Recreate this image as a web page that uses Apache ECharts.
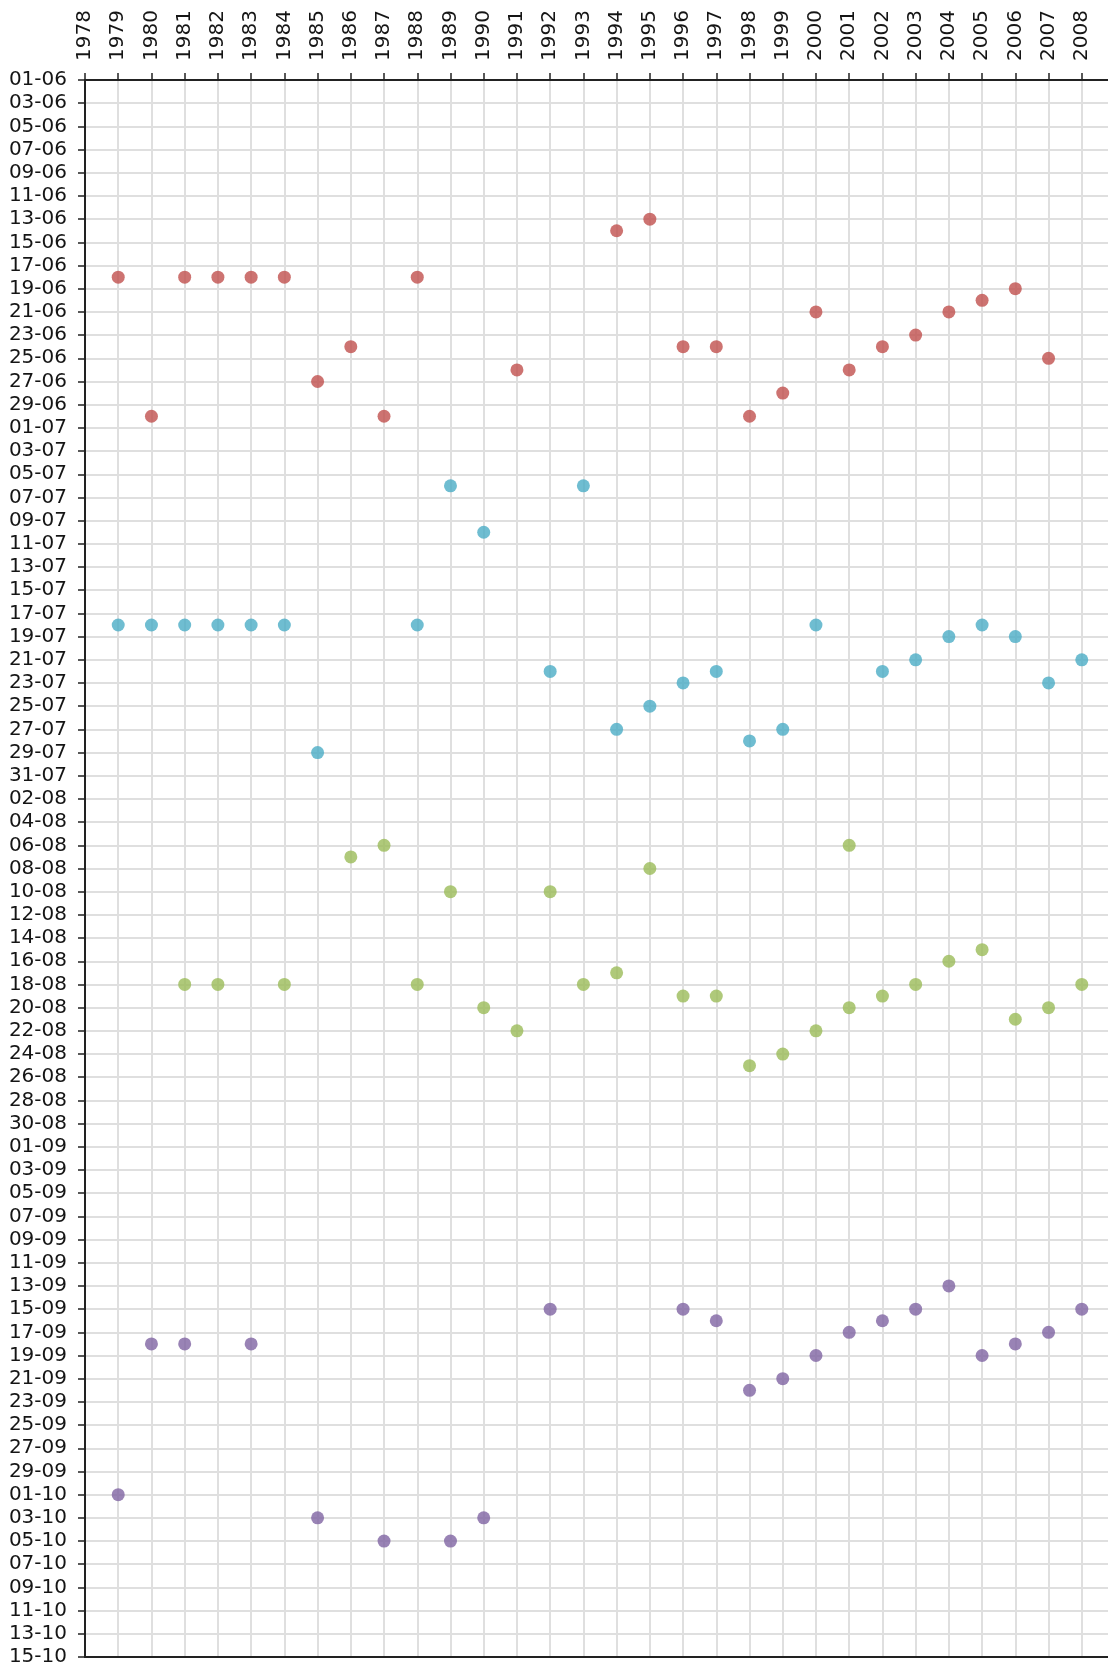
<!DOCTYPE html>
<html>
<head>
<meta charset="utf-8">
<style>
  html, body { margin: 0; padding: 0; background: #ffffff; overflow: hidden; }
  #chart { width: 1115px; height: 1668px; }
</style>
<script src="https://cdn.jsdelivr.net/npm/echarts@6/dist/echarts.min.js"></script>
</head>
<body>
<div id="chart"></div>
<script>
// Observed dates per year (day-month), one list per colour group.
const groupJune = [
  [1979, '18-06'], [1980, '30-06'], [1981, '18-06'], [1982, '18-06'], [1983, '18-06'],
  [1984, '18-06'], [1985, '27-06'], [1986, '24-06'], [1987, '30-06'], [1988, '18-06'],
  [1991, '26-06'], [1994, '14-06'], [1995, '13-06'], [1996, '24-06'], [1997, '24-06'],
  [1998, '30-06'], [1999, '28-06'], [2000, '21-06'], [2001, '26-06'], [2002, '24-06'],
  [2003, '23-06'], [2004, '21-06'], [2005, '20-06'], [2006, '19-06'], [2007, '25-06']
];
const groupJuly = [
  [1979, '18-07'], [1980, '18-07'], [1981, '18-07'], [1982, '18-07'], [1983, '18-07'],
  [1984, '18-07'], [1985, '29-07'], [1988, '18-07'], [1989, '06-07'], [1990, '10-07'],
  [1992, '22-07'], [1993, '06-07'], [1994, '27-07'], [1995, '25-07'], [1996, '23-07'],
  [1997, '22-07'], [1998, '28-07'], [1999, '27-07'], [2000, '18-07'], [2002, '22-07'],
  [2003, '21-07'], [2004, '19-07'], [2005, '18-07'], [2006, '19-07'], [2007, '23-07'],
  [2008, '21-07']
];
const groupAugust = [
  [1981, '18-08'], [1982, '18-08'], [1984, '18-08'], [1986, '07-08'], [1987, '06-08'],
  [1988, '18-08'], [1989, '10-08'], [1990, '20-08'], [1991, '22-08'], [1992, '10-08'],
  [1993, '18-08'], [1994, '17-08'], [1995, '08-08'], [1996, '19-08'], [1997, '19-08'],
  [1998, '25-08'], [1999, '24-08'], [2000, '22-08'], [2001, '06-08'], [2001, '20-08'],
  [2002, '19-08'], [2003, '18-08'], [2004, '16-08'], [2005, '15-08'], [2006, '21-08'],
  [2007, '20-08'], [2008, '18-08']
];
const groupAutumn = [
  [1979, '01-10'], [1980, '18-09'], [1981, '18-09'], [1983, '18-09'], [1985, '03-10'],
  [1987, '05-10'], [1989, '05-10'], [1990, '03-10'], [1992, '15-09'], [1996, '15-09'],
  [1997, '16-09'], [1998, '22-09'], [1999, '21-09'], [2000, '19-09'], [2001, '17-09'],
  [2002, '16-09'], [2003, '15-09'], [2004, '13-09'], [2005, '19-09'], [2006, '18-09'],
  [2007, '17-09'], [2008, '15-09']
];

// Axis ranges: years along the top, days counted from 1 June down the side.
const firstYear = 1978;
const lastYear = 2008;
const dayMin = 0;    // 01-06
const dayMax = 136;  // 15-10
const dayStep = 2;

const groupColors = ['#C0504D', '#4BACC6', '#9BBB59', '#8064A2'];

const BASE = Date.UTC(2001, 5, 1);
const DAY = 86400000;

function toOffset(dm) {
  const [d, m] = dm.split('-').map(Number);
  return Math.round((Date.UTC(2001, m - 1, d) - BASE) / DAY);
}
function toLabel(offset) {
  const dt = new Date(BASE + offset * DAY);
  const d = String(dt.getUTCDate()).padStart(2, '0');
  const m = String(dt.getUTCMonth() + 1).padStart(2, '0');
  return d + '-' + m;
}

const groups = [groupJune, groupJuly, groupAugust, groupAutumn];
const names = ['June', 'July', 'August', 'September-October'];

const textStyle = { fontFamily: 'Verdana, "DejaVu Sans", sans-serif', fontSize: 20, color: '#151515' };
const axisDark = '#222222';
const gridGray = '#dfdfdf';

const chart = echarts.init(document.getElementById('chart'), null, { renderer: 'canvas' });
chart.setOption({
  animation: false,
  backgroundColor: '#ffffff',
  grid: { left: 85, top: 80, right: 0, bottom: 11 },
  xAxis: [
    {
      type: 'value',
      position: 'top',
      min: firstYear,
      max: lastYear + 1,
      interval: 1,
      axisLine: { show: true, lineStyle: { color: axisDark, width: 2 } },
      axisTick: { show: true, length: 7, lineStyle: { color: axisDark, width: 1.5 } },
      axisLabel: Object.assign({
        rotate: 90,
        margin: 19,
        formatter: v => (v <= lastYear ? String(v) : '')
      }, textStyle),
      splitLine: { show: true, lineStyle: { color: gridGray, width: 2 } }
    },
    {
      type: 'value',
      position: 'bottom',
      min: firstYear,
      max: lastYear + 1,
      axisLine: { show: true, onZero: false, lineStyle: { color: axisDark, width: 2 } },
      axisTick: { show: false },
      axisLabel: { show: false },
      splitLine: { show: false }
    }
  ],
  yAxis: {
    type: 'value',
    inverse: true,
    min: dayMin,
    max: dayMax,
    interval: dayStep,
    axisLine: { show: true, onZero: false, lineStyle: { color: axisDark, width: 2 } },
    axisTick: { show: true, length: 7, lineStyle: { color: axisDark, width: 1.5 } },
    axisLabel: Object.assign({ margin: 18, formatter: v => toLabel(v) }, textStyle),
    splitLine: { show: true, lineStyle: { color: gridGray, width: 2 } }
  },
  series: groups.map((g, i) => ({
    name: names[i],
    type: 'scatter',
    xAxisIndex: 0,
    symbol: 'circle',
    symbolSize: 13,
    itemStyle: { color: groupColors[i] },
    data: g.map(([yr, dm]) => [yr, toOffset(dm)])
  }))
});
</script>
</body>
</html>
